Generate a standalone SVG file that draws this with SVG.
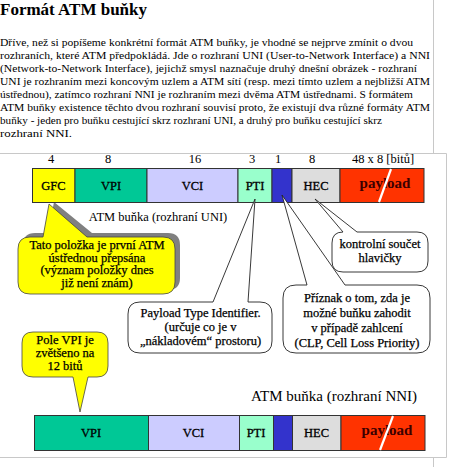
<svg xmlns="http://www.w3.org/2000/svg" width="449" height="467" viewBox="0 0 449 467">
<style>
.t{font-family:"Liberation Serif","Times New Roman",serif;fill:#000}
.body{font-size:11.2px}
.title{font-size:17px;font-weight:bold}
.lbl{font-size:12.5px;text-anchor:middle;stroke:#000;stroke-width:0.3}
.bit{font-size:12.5px;text-anchor:middle}
.pay{font-size:15px;font-weight:bold;text-anchor:middle;fill:#3a0000}
.co{font-size:12.5px;text-anchor:middle;stroke:#000;stroke-width:0.25}
.cell{stroke:#333;stroke-width:1}
.frame{stroke:#c8c8c8;stroke-width:1;fill:none}
.ybub{fill:#ffff00;stroke:#444;stroke-width:0.8}
.wbub{fill:#fff;stroke:#222;stroke-width:0.9}
.slash{stroke:#fff;stroke-width:2.2}
</style>

<g id="page-text">
<text class="t title" x="0" y="15" textLength="147" lengthAdjust="spacingAndGlyphs">Formát ATM buňky</text>
<text class="t body" x="0" y="46" textLength="413" lengthAdjust="spacingAndGlyphs">Dříve, než si popíšeme konkrétní formát ATM buňky, je vhodné se nejprve zmínit o dvou</text>
<text class="t body" x="0" y="59" textLength="430" lengthAdjust="spacingAndGlyphs">rozhraních, které ATM předpokládá. Jde o rozhraní UNI (User-to-Network Interface) a NNI</text>
<text class="t body" x="0" y="72" textLength="417" lengthAdjust="spacingAndGlyphs">(Network-to-Network Interface), jejichž smysl naznačuje druhý dnešní obrázek - rozhraní</text>
<text class="t body" x="0" y="85" textLength="430" lengthAdjust="spacingAndGlyphs">UNI je rozhraním mezi koncovým uzlem a ATM sítí (resp. mezi tímto uzlem a nejbližší ATM</text>
<text class="t body" x="0" y="98" textLength="413" lengthAdjust="spacingAndGlyphs">ústřednou), zatímco rozhraní NNI je rozhraním mezi dvěma ATM ústřednami. S formátem</text>
<text class="t body" x="0" y="111" textLength="430" lengthAdjust="spacingAndGlyphs">ATM buňky existence těchto dvou rozhraní souvisí proto, že existují dva různé formáty ATM</text>
<text class="t body" x="0" y="124" textLength="382" lengthAdjust="spacingAndGlyphs">buňky - jeden pro buňku cestující skrz rozhraní UNI, a druhý pro buňku cestující skrz</text>
<text class="t body" x="0" y="137" textLength="72" lengthAdjust="spacingAndGlyphs">rozhraní NNI.</text>
</g>

<g id="frame">
<path class="frame" d="M433.5,0 V153.5 M0,153.5 H446.5 V457.5 H0 M433.5,457.5 V467"/>
</g>

<g id="gfc-callout-shadow">
<path fill="#808080" transform="translate(5,-4)" d="M30,237 L43,237 L49,206 L87,237 L163,237 Q175,237 175,249 L175,282 Q175,294 163,294 L30,294 Q18,294 18,282 L18,249 Q18,237 30,237 Z"/>
</g>

<g id="uni-cell">
<text class="t bit" x="51" y="163">4</text>
<text class="t bit" x="108" y="163">8</text>
<text class="t bit" x="195" y="163">16</text>
<text class="t bit" x="252" y="163">3</text>
<text class="t bit" x="278" y="163">1</text>
<text class="t bit" x="312" y="163">8</text>
<text class="t bit" x="383" y="163">48 x 8 [bitů]</text>
<g id="uni-gfc"><rect class="cell" x="32.5" y="168.5" width="42.5" height="34" fill="#ffff00"/><text class="t lbl" x="53.5" y="190">GFC</text></g>
<g id="uni-vpi"><rect class="cell" x="75" y="168.5" width="72" height="34" fill="#00c896"/><text class="t lbl" x="111" y="190">VPI</text></g>
<g id="uni-vci"><rect class="cell" x="147" y="168.5" width="91" height="34" fill="#ccccff"/><text class="t lbl" x="192.5" y="190">VCI</text></g>
<g id="uni-pti"><rect class="cell" x="238" y="168.5" width="34" height="34" fill="#99ffcc"/><text class="t lbl" x="255" y="190">PTI</text></g>
<g id="uni-clp"><rect class="cell" x="272" y="168.5" width="20" height="34" fill="#3333cc"/></g>
<g id="uni-hec"><rect class="cell" x="292" y="168.5" width="48" height="34" fill="#dddddd"/><text class="t lbl" x="316" y="190">HEC</text></g>
<g id="uni-payload"><rect class="cell" x="340" y="168.5" width="84" height="34" fill="#ff3300"/><text class="t pay" x="385" y="188">payload</text><line class="slash" x1="391" y1="169" x2="379" y2="202"/></g>
<text class="t bit" x="158" y="221">ATM buňka (rozhraní UNI)</text>
</g>

<g id="nni-cell">
<text class="t" x="334" y="401" font-size="15" text-anchor="middle">ATM buňka (rozhraní NNI)</text>
<g id="nni-vpi"><rect class="cell" x="34.5" y="415.5" width="114" height="35" fill="#00c896"/><text class="t lbl" x="91" y="436.5">VPI</text></g>
<g id="nni-vci"><rect class="cell" x="148.5" y="415.5" width="91" height="35" fill="#ccccff"/><text class="t lbl" x="193.5" y="436.5">VCI</text></g>
<g id="nni-pti"><rect class="cell" x="239.5" y="415.5" width="34" height="35" fill="#99ffcc"/><text class="t lbl" x="256" y="436.5">PTI</text></g>
<g id="nni-clp"><rect class="cell" x="273.5" y="415.5" width="19" height="35" fill="#3333cc"/></g>
<g id="nni-hec"><rect class="cell" x="292.5" y="415.5" width="48.5" height="35" fill="#dddddd"/><text class="t lbl" x="316.5" y="436.5">HEC</text></g>
<g id="nni-payload"><rect class="cell" x="341" y="415.5" width="84" height="35" fill="#ff3300"/><text class="t pay" x="387" y="435">payload</text><line class="slash" x1="393" y1="416" x2="380" y2="450"/></g>
</g>

<g id="connectors">
<g id="gfc-callout">
<path class="ybub" d="M30,237 L43,237 L49,204 L87,237 L163,237 Q175,237 175,249 L175,282 Q175,294 163,294 L30,294 Q18,294 18,282 L18,249 Q18,237 30,237 Z"/>
<text class="t co" x="97" y="249">Tato položka je první ATM</text>
<text class="t co" x="97" y="261.5">ústřednou přepsána</text>
<text class="t co" x="97" y="274">(význam položky dnes</text>
<text class="t co" x="97" y="286.5">již není znám)</text>
</g>
<g id="vpi-callout">
<path class="ybub" d="M33,332 L97,332 Q108,332 108,343 L108,366 Q108,377 97,377 L88,377 L80,412 L73,377 L33,377 Q22,377 22,366 L22,343 Q22,332 33,332 Z"/>
<text class="t co" x="65" y="344">Pole VPI je</text>
<text class="t co" x="65" y="357">zvětšeno na</text>
<text class="t co" x="65" y="370">12 bitů</text>
</g>
<g id="pti-callout">
<path class="wbub" d="M140,302 L213,302 L255,199 L248,302 L260,302 Q272,302 272,314 L272,341 Q272,353 260,353 L140,353 Q128,353 128,341 L128,314 Q128,302 140,302 Z"/>
<text class="t co" x="200.5" y="317">Payload Type Identifier.</text>
<text class="t co" x="200.5" y="330.5">(určuje co je v</text>
<text class="t co" x="200.5" y="345">„nákladovém“ prostoru)</text>
</g>
<g id="clp-callout">
<path class="wbub" d="M296,285 L307,285 L282,195 L345,285 L417,285 Q430,285 430,298 L430,340 Q430,353 417,353 L296,353 Q283,353 283,340 L283,298 Q283,285 296,285 Z"/>
<text class="t co" x="357" y="301.5">Příznak o tom, zda je</text>
<text class="t co" x="357" y="316.5">možné buňku zahodit</text>
<text class="t co" x="357" y="331.5">v případě zahlcení</text>
<text class="t co" x="357" y="346.5">(CLP, Cell Loss Priority)</text>
</g>
<g id="hec-callout">
<path class="wbub" d="M343,232 L315,199 L357,232 L417,232 Q428,232 428,243 L428,261 Q428,272 417,272 L343,272 Q332,272 332,261 L332,243 Q332,232 343,232 Z"/>
<text class="t co" x="380" y="248">kontrolní součet</text>
<text class="t co" x="380" y="261.5">hlavičky</text>
</g>
</g>
</svg>
